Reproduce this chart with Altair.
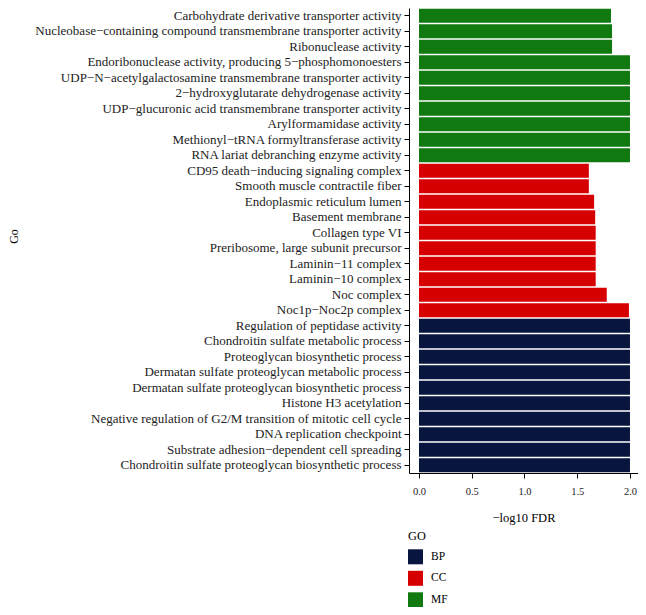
import altair as alt
import pandas as pd

terms = [
    "Carbohydrate derivative transporter activity",
    "Nucleobase−containing compound transmembrane transporter activity",
    "Ribonuclease activity",
    "Endoribonuclease activity, producing 5−phosphomonoesters",
    "UDP−N−acetylgalactosamine transmembrane transporter activity",
    "2−hydroxyglutarate dehydrogenase activity",
    "UDP−glucuronic acid transmembrane transporter activity",
    "Arylformamidase activity",
    "Methionyl−tRNA formyltransferase activity",
    "RNA lariat debranching enzyme activity",
    "CD95 death−inducing signaling complex",
    "Smooth muscle contractile fiber",
    "Endoplasmic reticulum lumen",
    "Basement membrane",
    "Collagen type VI",
    "Preribosome, large subunit precursor",
    "Laminin−11 complex",
    "Laminin−10 complex",
    "Noc complex",
    "Noc1p−Noc2p complex",
    "Regulation of peptidase activity",
    "Chondroitin sulfate metabolic process",
    "Proteoglycan biosynthetic process",
    "Dermatan sulfate proteoglycan metabolic process",
    "Dermatan sulfate proteoglycan biosynthetic process",
    "Histone H3 acetylation",
    "Negative regulation of G2/M transition of mitotic cell cycle",
    "DNA replication checkpoint",
    "Substrate adhesion−dependent cell spreading",
    "Chondroitin sulfate proteoglycan biosynthetic process",
]
values = [
    1.82, 1.83, 1.83, 2.0, 2.0, 2.0, 2.0, 2.0, 2.0, 2.0,
    1.61, 1.61, 1.66, 1.67, 1.675, 1.675, 1.675, 1.675, 1.78, 1.99,
    2.0, 2.0, 2.0, 2.0, 2.0, 2.0, 2.0, 2.0, 2.0, 2.0,
]
groups = ["MF"] * 10 + ["CC"] * 10 + ["BP"] * 10

go_levels = ["BP", "CC", "MF"]
go_colors = ["#08163F", "#D70000", "#107A10"]
x_ticks = [0.0, 0.5, 1.0, 1.5, 2.0]

df = pd.DataFrame({"term": terms, "value": values, "GO": groups})

FONT = "Liberation Serif"

chart = alt.Chart(df).mark_bar().encode(
    y=alt.Y(
        "term:N",
        sort=terms,
        scale=alt.Scale(paddingInner=0.1, paddingOuter=0.05),
        axis=alt.Axis(
            title="Go",
            titleX=-389,
            titleY=228,
            titleFontWeight="normal",
            titleFontSize=12,
            titleColor="#000000",
            labelFontSize=13,
            labelColor="#222222",
            labelLimit=600,
            labelPadding=3,
            tickSize=5,
            tickColor="#000000",
            domainColor="#000000",
            grid=False,
        ),
    ),
    x=alt.X(
        "value:Q",
        scale=alt.Scale(domain=[-0.0948, 2.076], nice=False, zero=False),
        axis=alt.Axis(
            title="−log10 FDR",
            values=x_ticks,
            format=".1f",
            titleFontWeight="normal",
            titleFontSize=12.5,
            titleColor="#000000",
            titlePadding=15,
            labelFontSize=10.5,
            labelColor="#222222",
            labelPadding=8,
            tickSize=5,
            tickColor="#000000",
            domainColor="#000000",
            grid=False,
        ),
    ),
    x2=alt.datum(0),
    color=alt.Color(
        "GO:N",
        scale=alt.Scale(domain=go_levels, range=go_colors),
        legend=alt.Legend(
            title="GO",
            orient="none",
            legendX=-1,
            legendY=522,
            direction="vertical",
            symbolType="square",
            symbolSize=225,
            symbolStrokeWidth=0,
            symbolOpacity=1,
            rowPadding=6.5,
            labelOffset=8,
            labelFontSize=11.5,
            titleFontSize=12.3,
            titleFontWeight="normal",
            titlePadding=7,
            padding=0,
        ),
    ),
).properties(
    width=229,
    height=465,
    padding={"left": 401, "top": 0, "right": 0, "bottom": 134},
    autosize=alt.AutoSizeParams(type="none"),
).configure(
    font=FONT,
).configure_view(
    stroke=None,
)

chart.save("out.html", embed_options={"renderer": "svg", "actions": False})
